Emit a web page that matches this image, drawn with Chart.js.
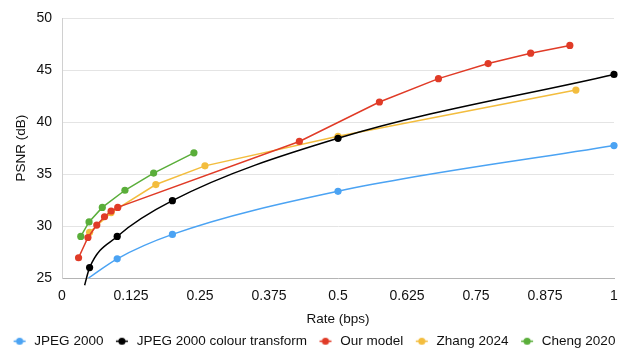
<!DOCTYPE html>
<html>
<head>
<meta charset="utf-8">
<script src="https://cdn.jsdelivr.net/npm/chart.js@4.4.1/dist/chart.umd.min.js"></script>
<style>
html,body{margin:0;padding:0;background:#fff;}
#wrap{width:619px;height:348px;}
</style>
</head>
<body>
<div id="wrap"><canvas id="c" width="619" height="348"></canvas></div>
<script>
// ---- data ----
const seriesNames = ['JPEG 2000', 'JPEG 2000 colour transform', 'Our model', 'Zhang 2024', 'Cheng 2020'];
const jpegRate   = [0.048, 0.1, 0.2, 0.5, 1.0];
const jpegPsnr   = [25.0, 26.85, 29.2, 33.35, 37.75];
const jpegCtRate = [0.041, 0.05, 0.1, 0.2, 0.5, 1.0];
const jpegCtPsnr = [24.3, 26.0, 29.0, 32.45, 38.45, 44.6];
const oursRate   = [0.03, 0.047, 0.063, 0.077, 0.089, 0.101, 0.43, 0.575, 0.682, 0.772, 0.849, 0.92];
const oursPsnr   = [26.95, 28.9, 30.1, 30.9, 31.45, 31.8, 38.15, 41.95, 44.2, 45.65, 46.65, 47.4];
const zhangRate  = [0.05, 0.089, 0.17, 0.259, 0.5, 0.931];
const zhangPsnr  = [29.4, 31.3, 34.0, 35.8, 38.65, 43.1];
const chengRate  = [0.034, 0.049, 0.073, 0.114, 0.166, 0.239];
const chengPsnr  = [29.0, 30.4, 31.8, 33.45, 35.1, 37.05];
const rateTickLabels = ['0', '0.125', '0.25', '0.375', '0.5', '0.625', '0.75', '0.875', '1'];
const psnrTickLabels = ['25', '30', '35', '40', '45', '50'];

// ---- styling ----
const FONT = "'Liberation Sans', Arial, Helvetica, sans-serif";
const colors = ['#4ba3f3', '#000000', '#e03b27', '#f3bd3e', '#5aae3a'];

function pts(xs, ys) { return xs.map((x, i) => ({x: x, y: ys[i]})); }

function legendMarker(color) {
  const c = document.createElement('canvas');
  c.width = 14; c.height = 9;
  const g = c.getContext('2d');
  g.strokeStyle = color; g.lineWidth = 1.5;
  g.beginPath(); g.moveTo(1, 4.5); g.lineTo(13, 4.5); g.stroke();
  g.fillStyle = color;
  g.beginPath(); g.arc(7, 4.5, 3.6, 0, Math.PI * 2); g.fill();
  return c;
}
const markers = colors.map(legendMarker);

function ds(i, xs, ys, extra) {
  return Object.assign({
    label: seriesNames[i],
    data: pts(xs, ys),
    borderColor: colors[i],
    backgroundColor: colors[i],
    pointBackgroundColor: colors[i],
    pointBorderWidth: 0,
    pointRadius: 3.6,
    pointHoverRadius: 3.6,
    borderWidth: 1.5,
    tension: 0,
    clip: {left: 5, top: 5, right: 6, bottom: 0}
  }, extra || {});
}

const datasets = [
  ds(0, jpegRate, jpegPsnr, {cubicInterpolationMode: 'monotone', pointRadius: [0, 3.6, 3.6, 3.6, 3.6]}),
  ds(1, jpegCtRate, jpegCtPsnr, {cubicInterpolationMode: 'monotone', pointRadius: [0, 3.6, 3.6, 3.6, 3.6, 3.6], clip: {left: 5, top: 5, right: 6, bottom: 8}}),
  ds(2, oursRate, oursPsnr),
  ds(3, zhangRate, zhangPsnr),
  ds(4, chengRate, chengPsnr)
];

new Chart(document.getElementById('c'), {
  type: 'line',
  data: {datasets: datasets},
  options: {
    responsive: false,
    animation: false,
    events: [],
    layout: {padding: {left: -2, right: -10, top: 14, bottom: -10}},
    plugins: {
      tooltip: {enabled: false},
      legend: {
        position: 'bottom',
        labels: {
          usePointStyle: true,
          pointStyleWidth: 16,
          padding: 10.5,
          color: '#111',
          font: {family: FONT, size: 13.5},
          generateLabels: function (chart) {
            const items = Chart.defaults.plugins.legend.labels.generateLabels(chart);
            items.forEach((it) => { it.pointStyle = markers[it.datasetIndex]; });
            return items;
          }
        }
      }
    },
    scales: {
      x: {
        type: 'linear',
        min: 0, max: 1,
        afterFit: function (s) { s.height = 46; s.paddingLeft = 0; s.paddingRight = 5; },
        ticks: {
          stepSize: 0.125,
          padding: 10,
          color: '#111',
          font: {family: FONT, size: 14},
          maxRotation: 0,
          autoSkip: false,
          callback: function (v, i) { return rateTickLabels[i]; }
        },
        grid: {color: 'rgba(0,0,0,0)', drawTicks: false},
        border: {display: true, color: '#b4b4b4', width: 1},
        title: {display: true, text: 'Rate (bps)', color: '#111', font: {family: FONT, size: 13.5}, padding: {top: 0, bottom: -3}}
      },
      y: {
        type: 'linear',
        min: 25, max: 50,
        afterFit: function (s) { s.width = 64; },
        ticks: {
          stepSize: 5,
          padding: 10,
          color: '#111',
          font: {family: FONT, size: 14},
          callback: function (v, i) { return psnrTickLabels[i]; }
        },
        grid: {color: '#e4e4e4', drawTicks: false, lineWidth: 1},
        border: {display: true, color: '#d0d0d0', width: 1},
        title: {display: true, text: 'PSNR (dB)', color: '#111', font: {family: FONT, size: 13.5}, padding: {top: 15, bottom: 0}}
      }
    }
  }
});
</script>
</body>
</html>
